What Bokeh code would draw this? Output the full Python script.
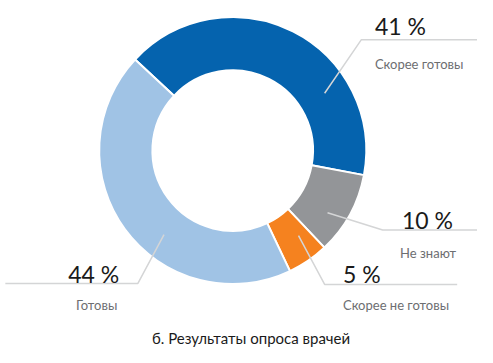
import numpy as np
from bokeh.plotting import figure
from bokeh.models import Range1d
from bokeh.core.properties import value
from bokeh.embed import file_html
from bokeh.resources import INLINE

# ---- data ----
categories = ["Скорее готовы", "Не знают", "Скорее не готовы", "Готовы"]
shares = [41, 10, 5, 44]
pct_labels = ["41 %", "10 %", "5 %", "44 %"]
colors = ["#0563ae", "#939598", "#f5821f", "#a0c3e5"]
title = "б. Результаты опроса врачей"

# ---- layout (reference pixel coordinates, y downward) ----
W, H = 477, 347
RW, RH = 493, 363
FONT = "Lato"
def Y(py):
    return RH - py

cx, cy = 240, 157
r_in, r_out = 83, 138
start_cw = 313.0  # clockwise degrees from 12 o'clock where first slice begins

p = figure(width=W, height=H, output_backend="svg", toolbar_location=None,
           x_range=Range1d(0, RW), y_range=Range1d(0, RH), min_border=0)
p.axis.visible = False
p.grid.visible = False
p.outline_line_color = None
p.background_fill_color = "white"
p.border_fill_color = "white"

vals = np.array(shares, dtype=float)
frac = vals / vals.sum() * 360.0
cum = np.concatenate([[0], np.cumsum(frac)[:-1]])
start_math = np.radians(90 - (start_cw + cum))
end_math = np.radians(90 - (start_cw + cum + frac))

p.annular_wedge(x=cx, y=Y(cy), inner_radius=r_in, outer_radius=r_out,
                start_angle=start_math, end_angle=end_math, direction="clock",
                fill_color=colors, line_color="white", line_width=2)

# leader lines
lc = "#d4d5d6"
leaders = [
    ([335, 373, 493], [97, 41, 41]),
    ([338, 395, 493], [222, 240, 240]),
    ([308, 335, 472], [246, 297, 297]),
    ([169, 142, 5], [245, 296, 296]),
]
for xs, ys in leaders:
    p.line(x=xs, y=[Y(v) for v in ys], line_color=lc, line_width=1.5)

# percentage texts
pct_pos = [(387, 27), (415, 230), (354, 286), (70, 286)]
p.text(x=[q[0] for q in pct_pos], y=[Y(q[1]) for q in pct_pos], text=pct_labels,
       text_font=value(FONT), text_font_size="23px", text_color="#1a1a1a",
       text_baseline="alphabetic", text_align="left")

# category texts
cat_pos = [(387, 66), (413, 264), (354, 319), (78, 319)]
p.text(x=[q[0] for q in cat_pos], y=[Y(q[1]) for q in cat_pos], text=categories,
       text_font=value(FONT), text_font_size="13px", text_color="#6d6e71",
       text_baseline="alphabetic", text_align="left")

# title
p.text(x=[259], y=[Y(353)], text=[title], text_font=value(FONT),
       text_font_size="15px", text_color="#1a1a1a",
       text_baseline="alphabetic", text_align="center")

open("out.html", "w").write(file_html(p, INLINE))
